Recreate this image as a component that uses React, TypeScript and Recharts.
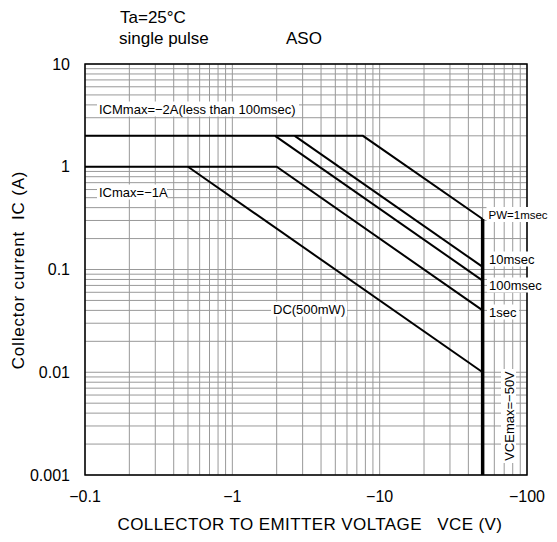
import { LineChart, Line, XAxis, YAxis, CartesianGrid } from "recharts";

// VCE in volts (shown as negative on the axis), IC in amps (magnitude)
const VCE_MAX = 50;
const PW_1MS = [
  { vce: 0.1, ic: 2 },
  { vce: 7.7, ic: 2 },
  { vce: VCE_MAX, ic: 0.31 },
];
const PW_10MS = [
  { vce: 2.65, ic: 2 },
  { vce: VCE_MAX, ic: 0.106 },
];
const PW_100MS = [
  { vce: 1.95, ic: 2 },
  { vce: VCE_MAX, ic: 0.078 },
];
const PW_1S = [
  { vce: 0.1, ic: 1 },
  { vce: 2, ic: 1 },
  { vce: VCE_MAX, ic: 0.04 },
];
const DC_500MW = [
  { vce: 0.5, ic: 1 },
  { vce: VCE_MAX, ic: 0.01 },
];
const VCE_LIMIT = [
  { vce: VCE_MAX, ic: 0.31 },
  { vce: VCE_MAX, ic: 0.001 },
];

const X_DECADES = [0.1, 1, 10, 100];
const X_DECADE_LABELS = ["−0.1", "−1", "−10", "−100"];
const Y_DECADES = [0.001, 0.01, 0.1, 1, 10];
const Y_DECADE_LABELS = ["0.001", "0.01", "0.1", "1", "10"];

const logTicks = (decades: number[]) => {
  const out: number[] = [];
  decades.slice(0, -1).forEach((d) => {
    for (let k = 1; k < 10; k++) out.push(d * k);
  });
  out.push(decades[decades.length - 1]);
  return out;
};

const xTicks = logTicks(X_DECADES);
const yTicks = logTicks(Y_DECADES);

const fmt = (decades: number[], labels: string[]) => (v: number) => {
  const i = decades.findIndex((d) => Math.abs(d - v) / d < 1e-9);
  return i >= 0 ? labels[i] : "";
};

// 557x542 window minus the 8px body margin on each side, so no scrollbar
const W = 541;
const H = 526;
const PLOT = { left: 77, top: 56, right: 519, bottom: 467 };
const SANS = "'Liberation Sans', Arial, sans-serif";
const NB = "\u00a0";

function Tag({
  x,
  y,
  w,
  text,
  rotate,
  size = 13,
}: {
  x: number;
  y: number;
  w: number;
  text: string;
  rotate?: boolean;
  size?: number;
}) {
  // white box behind the text so the grid is broken under it
  if (rotate) {
    return (
      <g transform={`rotate(-90 ${x} ${y})`}>
        <rect x={x - w / 2 - 2} y={y - 8} width={w + 4} height={15} fill="#fff" />
        <text x={x} y={y + 4.5} textAnchor="middle" fontSize={size}>
          {text}
        </text>
      </g>
    );
  }
  return (
    <g>
      <rect x={x - 2} y={y - 7.5} width={w + 4} height={15} fill="#fff" />
      <text x={x} y={y + 4.5} fontSize={size}>
        {text}
      </text>
    </g>
  );
}

const lineProps = {
  type: "linear" as const,
  dataKey: "ic",
  stroke: "#000",
  strokeWidth: 2,
  dot: false,
  isAnimationActive: false,
};

export default function App() {
  return (
    <div style={{ position: "relative", width: W, height: H, fontFamily: SANS }}>
      <LineChart width={W} height={H} margin={{ top: PLOT.top, right: W - PLOT.right, left: 0, bottom: 0 }}>
        <CartesianGrid stroke="#999" strokeWidth={1} />
        <XAxis
          type="number"
          dataKey="vce"
          scale="log"
          domain={[0.1, 100]}
          allowDataOverflow
          ticks={xTicks}
          interval={0}
          tickFormatter={fmt(X_DECADES, X_DECADE_LABELS)}
          tickSize={0}
          tickMargin={16}
          axisLine={false}
          height={H - PLOT.bottom}
          tick={{ fontSize: 16, fill: "#000", fontFamily: SANS }}
        />
        <YAxis
          type="number"
          scale="log"
          domain={[0.001, 10]}
          allowDataOverflow
          ticks={yTicks}
          interval={0}
          tickFormatter={fmt(Y_DECADES, Y_DECADE_LABELS)}
          tickSize={0}
          tickMargin={15}
          axisLine={false}
          width={PLOT.left}
          tick={{ fontSize: 16, fill: "#000", fontFamily: SANS }}
        />
        <Line {...lineProps} data={PW_1MS} />
        <Line {...lineProps} data={PW_10MS} />
        <Line {...lineProps} data={PW_100MS} />
        <Line {...lineProps} data={PW_1S} />
        <Line {...lineProps} data={DC_500MW} />
        <Line {...lineProps} data={VCE_LIMIT} strokeWidth={3.5} />
      </LineChart>
      <svg
        width={W}
        height={H}
        style={{
          position: "absolute",
          left: 0,
          top: 0,
          pointerEvents: "none",
          fontFamily: SANS,
        }}
      >
        <rect
          x={PLOT.left}
          y={PLOT.top}
          width={PLOT.right - PLOT.left}
          height={PLOT.bottom - PLOT.top}
          fill="none"
          stroke="#000"
          strokeWidth={1.5}
        />
        <text x={112} y={15} fontSize={17}>Ta=25°C</text>
        <text x={111} y={36} fontSize={17}>single pulse</text>
        <text x={278} y={36} fontSize={17}>ASO</text>

        <Tag x={91} y={101} w={198} text="ICMmax=−2A(less than 100msec)" />
        <Tag x={91} y={184} w={66} text="ICmax=−1A" />
        <Tag x={480.5} y={206.5} w={58} text="PW=1msec" size={11.5} />
        <Tag x={481} y={251} w={47} text="10msec" />
        <Tag x={481} y={277} w={54} text="100msec" />
        <Tag x={481} y={304} w={28} text="1sec" />
        <Tag x={265} y={301} w={72} text="DC(500mW)" />
        <Tag x={501} y={408} w={90} text="VCEmax=−50V" rotate />

        <text x={302} y={522} fontSize={17} letterSpacing={0.4} textAnchor="middle">
          {`COLLECTOR TO EMITTER VOLTAGE ${NB}${NB}VCE (V)`}
        </text>
        <text
          x={16}
          y={262}
          fontSize={17}
          letterSpacing={0.8}
          textAnchor="middle"
          transform="rotate(-90 16 262)"
        >
          {`Collector current ${NB}IC (A)`}
        </text>
      </svg>
    </div>
  );
}
